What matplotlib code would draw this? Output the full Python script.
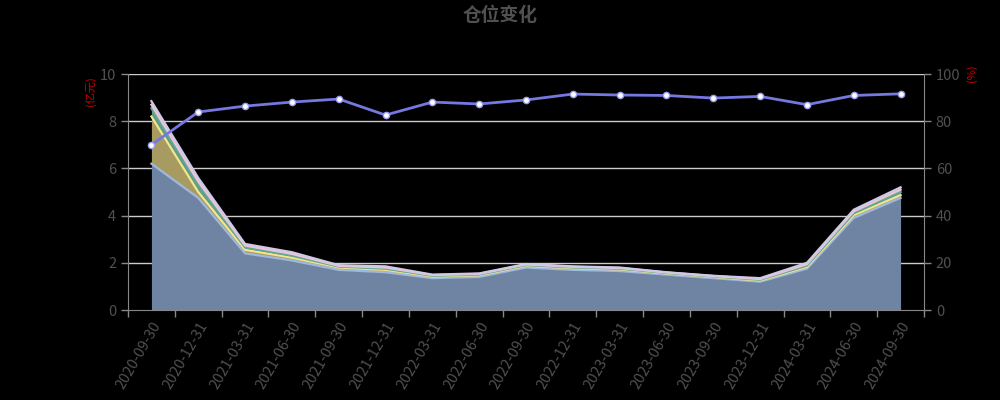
import matplotlib
matplotlib.use("Agg")
import matplotlib.pyplot as plt
import numpy as np

plt.rcParams['font.family'] = ['Noto Sans CJK SC', 'DejaVu Sans']

dates = ["2020-09-30", "2020-12-31", "2021-03-31", "2021-06-30", "2021-09-30",
         "2021-12-31", "2022-03-31", "2022-06-30", "2022-09-30", "2022-12-31",
         "2023-03-31", "2023-06-30", "2023-09-30", "2023-12-31", "2024-03-31",
         "2024-06-30", "2024-09-30"]

# stacked amounts (亿元)
stock = [6.2, 4.75, 2.4, 2.1, 1.7, 1.6, 1.35, 1.4, 1.8, 1.7, 1.65, 1.5, 1.35, 1.2, 1.75, 3.9, 4.75]
bond = [2.0, 0.25, 0.15, 0.12, 0.1, 0.1, 0.07, 0.07, 0.07, 0.07, 0.07, 0.05, 0.05, 0.05, 0.08, 0.12, 0.12]
cash = [0.35, 0.3, 0.1, 0.08, 0.04, 0.05, 0.03, 0.03, 0.03, 0.03, 0.03, 0.02, 0.02, 0.03, 0.05, 0.08, 0.13]
other = [0.15, 0.15, 0.08, 0.08, 0.03, 0.05, 0.03, 0.03, 0.03, 0.03, 0.03, 0.02, 0.02, 0.03, 0.06, 0.08, 0.1]
misc = [0.15, 0.15, 0.07, 0.07, 0.03, 0.05, 0.02, 0.02, 0.02, 0.02, 0.02, 0.01, 0.01, 0.04, 0.06, 0.07, 0.1]

# position (%)
position = [70, 83.9, 86.4, 88.1, 89.4, 82.6, 88.1, 87.3, 89.0, 91.5, 91.1, 90.9, 89.8, 90.5, 87.0, 90.9, 91.6]

series = [stock, bond, cash, other, misc]
fill_colors = ['#6f83a3', '#a89b62', '#5e9a8c', '#d8b8c8', '#bcb6d4']
line_colors = ['#9fb8e0', '#f2e68a', '#5fa894', '#eec4d4', '#cfc8e6']

fig = plt.figure(figsize=(10, 4), dpi=100, facecolor='black')
ax = fig.add_axes([0.128, 0.225, 0.796, 0.59])
ax.set_facecolor('black')

x = np.arange(len(dates))
bottom = np.zeros(len(dates))
tops = []
for vals, fc in zip(series, fill_colors):
    top = bottom + np.array(vals)
    ax.fill_between(x, bottom, top, color=fc, linewidth=0, zorder=2)
    tops.append(top)
    bottom = top
for top, lc in zip(tops, line_colors):
    ax.plot(x, top, color=lc, lw=1.6, zorder=3, solid_joinstyle='round')

ax.set_xlim(-0.5, len(dates) - 0.5)
ax.set_ylim(0, 10)
ax.set_yticks([0, 2, 4, 6, 8, 10])
for yv in [2, 4, 6, 8, 10]:
    ax.axhline(yv, color='#cccccc', lw=1, zorder=1)

ax.set_xticks(x)
ax.set_xticklabels(dates, rotation=60, ha='right', va='top', rotation_mode='anchor',
                   color='#505050', fontsize=10.5)
ax.set_xticks(np.arange(len(dates) + 1) - 0.5, minor=True)
ax.tick_params(axis='x', which='major', length=0, pad=7)
ax.tick_params(axis='x', which='minor', length=5, color='#888888', width=1)
ax.tick_params(axis='y', colors='#505050', labelsize=10.5, length=5, width=1)
ax.tick_params(axis='y', colors='#888888', labelcolor='#505050')

for s in ['top', 'right']:
    ax.spines[s].set_visible(False)
ax.spines['left'].set_color('#888888')
ax.spines['bottom'].set_color('#888888')

ax2 = ax.twinx()
ax2.set_ylim(0, 100)
ax2.set_yticks([0, 20, 40, 60, 80, 100])
ax2.tick_params(axis='y', colors='#888888', labelcolor='#505050', labelsize=10.5, length=5, width=1)
for s in ['top', 'left', 'bottom']:
    ax2.spines[s].set_visible(False)
ax2.spines['right'].set_color('#888888')
ax2.plot(x, position, color='#7478e0', lw=2, marker='o', markersize=4.5,
         markerfacecolor='white', markeredgecolor='#9a9cf0', markeredgewidth=1, zorder=5)

fig.text(0.09, 0.81, '(亿元)', color='#cc0000', fontsize=8, rotation=90, ha='center', va='top')
fig.text(0.972, 0.84, '(%)', color='#cc0000', fontsize=8, rotation=90, ha='center', va='top')
fig.text(0.5, 0.962, '仓位变化', color='#505050', fontsize=13.5, fontweight='bold', ha='center', va='center')

fig.savefig('out.png', dpi=100, facecolor='black')
